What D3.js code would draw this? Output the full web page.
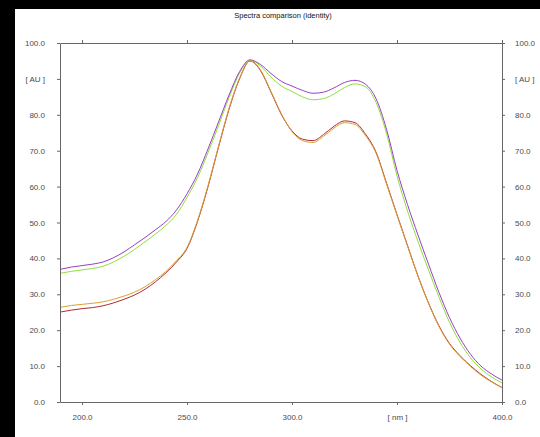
<html><head>
<title>Spectra comparison</title>
<script src="https://d3js.org/d3.v7.min.js"></script>
<style>
body { margin: 0; background: #fff; }
svg { display: block; font-family: 'Liberation Sans', Arial, sans-serif; }
.axis { color: #666; }
.axis text { fill: #4a4a4a; font-size: 8px; }
</style>
</head>
<body>
<svg id="chart" width="540" height="437"></svg>
<script>
// wavelength grid (nm)
const wavelengths = [190,195,200,205,210,215,220,225,230,235,240,245,250,255,260,265,270,275,280,285,290,295,300,305,310,315,320,325,330,335,340,345,350,355,360,365,370,375,380,385,390,395,400];

// absorbance readings [AU]
const purpleSeries = [37.0,37.6,38.0,38.4,39.0,40.2,41.8,43.8,45.8,48.0,50.3,53.5,58.0,63.5,70.5,78.0,85.5,92.0,95.3,94.0,91.5,89.3,88.0,86.8,86.0,86.3,87.5,89.0,89.6,88.5,84.5,76.0,64.5,55.0,46.5,38.4,30.5,23.5,17.8,13.3,10.0,7.8,6.1];
const greenSeries  = [35.9,36.4,36.8,37.2,37.8,39.0,40.6,42.5,44.6,46.8,49.2,52.3,57.0,62.5,69.5,77.0,84.8,91.6,95.2,93.6,90.5,88.0,86.5,85.0,84.2,84.5,85.8,87.6,88.6,87.8,83.5,74.8,63.0,53.2,44.7,36.8,29.2,22.2,16.6,12.3,9.2,7.0,5.3];
const redSeries    = [25.1,25.6,26.0,26.3,26.8,27.6,28.6,29.8,31.4,33.5,36.0,39.0,42.8,50.3,60.0,71.0,81.5,90.0,95.0,92.3,86.3,80.0,75.5,73.2,72.8,74.5,76.8,78.3,77.8,74.6,69.6,61.0,52.2,43.6,35.1,27.6,21.2,16.3,12.9,10.1,7.7,5.7,4.0];
const orangeSeries = [26.4,26.9,27.2,27.5,27.9,28.6,29.5,30.6,32.1,34.1,36.4,39.4,43.1,50.6,60.3,71.3,81.8,90.2,95.1,92.5,86.5,80.2,75.3,72.8,72.3,74.0,76.3,77.8,77.3,74.2,69.3,60.7,52.0,43.4,35.0,27.5,21.0,16.1,12.7,9.9,7.5,5.6,4.0];

const yTicks = [0,10,20,30,40,50,60,70,80,90,100];
const xTicks = [200,250,300,350,400];

const svg = d3.select('#chart');

// black border strips from the screenshot
svg.append('rect').attr('x', 0).attr('y', 0).attr('width', 540).attr('height', 9).attr('fill', '#000');
svg.append('rect').attr('x', 0).attr('y', 0).attr('width', 15).attr('height', 437).attr('fill', '#000');

const x = d3.scaleLinear().domain([189.5, 400]).range([60, 502]);
const y = d3.scaleLinear().domain([0, 100]).range([402, 43]);

const yFmt = d => d === 90 ? '[ AU ]' : d.toFixed(1);
const xFmt = d => d === 350 ? '[ nm ]' : d.toFixed(1);

svg.append('g').attr('class', 'axis')
  .attr('transform', 'translate(60,0)')
  .call(d3.axisLeft(y).tickValues(yTicks).tickFormat(yFmt).tickSize(3).tickSizeOuter(0).tickPadding(12));

svg.append('g').attr('class', 'axis')
  .attr('transform', 'translate(502,0)')
  .call(d3.axisRight(y).tickValues(yTicks).tickFormat(yFmt).tickSize(3).tickSizeOuter(0).tickPadding(10));

svg.append('g').attr('class', 'axis')
  .attr('transform', 'translate(0,402)')
  .call(d3.axisBottom(x).tickValues(xTicks).tickFormat(xFmt).tickSize(3).tickSizeOuter(0).tickPadding(9));

svg.append('g').attr('class', 'axis')
  .attr('transform', 'translate(0,43)')
  .call(d3.axisTop(x).tickValues(xTicks).tickFormat('').tickSize(3).tickSizeOuter(0));

// title
svg.append('text')
  .attr('x', 283).attr('y', 18)
  .attr('text-anchor', 'middle')
  .attr('font-size', '7.5px')
  .attr('fill', '#111')
  .text('Spectra comparison (identity)');

const line = d3.line()
  .x((d, i) => x(wavelengths[i]))
  .y(d => y(d))
  .curve(d3.curveMonotoneX);

const series = [
  { values: greenSeries, color: '#8ee03a' },
  { values: purpleSeries, color: '#9a3cc8' },
  { values: redSeries, color: '#b02a30' },
  { values: orangeSeries, color: '#d9a035' }
];

svg.append('g').selectAll('path')
  .data(series)
  .join('path')
  .attr('d', d => line(d.values))
  .attr('fill', 'none')
  .attr('stroke', d => d.color)
  .attr('stroke-width', 1);
</script>
</body></html>
